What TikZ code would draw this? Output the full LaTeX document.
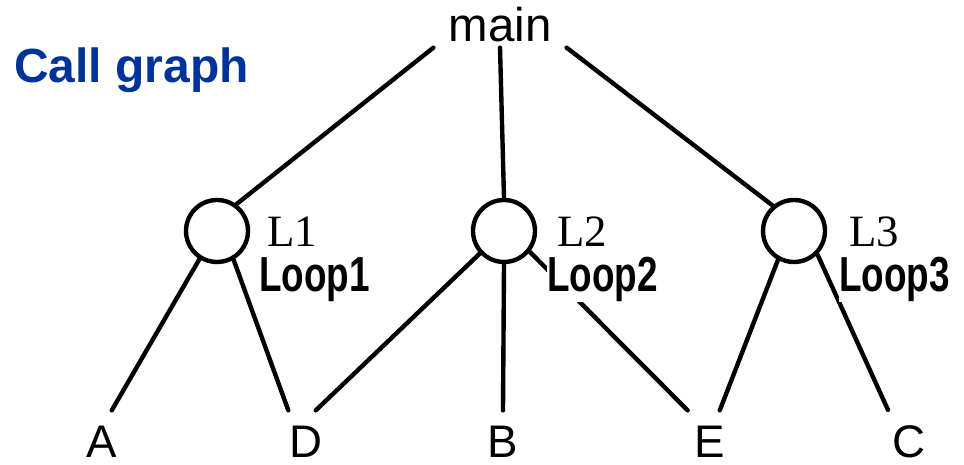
\documentclass[tikz,border=0pt]{standalone}
\usepackage{fontspec}
\setmainfont{Liberation Sans}
\newfontfamily\serifL{Liberation Serif}
\newfontfamily\narrowB[FakeStretch=0.75]{Liberation Sans}
\definecolor{titleblue}{RGB}{0,51,153}

\begin{document}
\begin{tikzpicture}[x=0.02cm,y=0.02cm,line width=2.5pt,line cap=round,
    loopcircle/.style={circle,draw,minimum size=1.24cm,inner sep=0pt},
    leaf/.style={anchor=base,inner sep=0.28cm,font=\fontsize{26pt}{30pt}\selectfont},
    looptag/.style={anchor=base west,inner sep=0pt,font=\serifL\fontsize{25.5pt}{30pt}\selectfont},
    loopname/.style={anchor=base west,inner sep=0pt,fill=white,font=\narrowB\bfseries\fontsize{28pt}{30pt}\selectfont}]
      \useasboundingbox (0,0) rectangle (964,465);
      \draw
        (12,382) node[anchor=base west,inner sep=0pt,text=titleblue,
          font=\bfseries\fontsize{27.3pt}{30pt}\selectfont] (title){Call graph}
        (500,423) node[anchor=base,inner xsep=0.26cm,inner ysep=0.06cm,
          font=\fontsize{27pt}{30pt}\selectfont] (main){main}
        (217,234) node[loopcircle] (L1){}
        (504,234) node[loopcircle] (L2){}
        (794,234) node[loopcircle] (L3){}
        (102,7) node[leaf] (A){A}
        (306,7) node[leaf] (D){D}
        (503,7) node[leaf] (B){B}
        (710,7) node[leaf] (E){E}
        (909,7) node[leaf] (C){C};
      \begin{scope}[-]
        \draw (main.south west) to (L1.54);
        \draw (main.south) to (L2.north);
        \draw (main.south east) to (L3.130);
        \draw (L1.238) to (A.73);
        \draw (L1.300) to (D.119);
        \draw (L2.223) to (D.73);
        \draw (L2.south) to (B.north);
        \draw (L2.321) to (E.125);
        \draw (L3.241) to (E.73);
        \draw (L3.315) to (C.123);
      \end{scope}
      \draw
        (265,218) node[looptag] (t1){L1}
        (555,218) node[looptag] (t2){L2}
        (847,218) node[looptag] (t3){L3}
        (257,173) node[loopname] (n1){Loop1}
        (545,173) node[loopname] (n2){Loop2}
        (837,173) node[loopname] (n3){Loop3};
    \end{tikzpicture}
\end{document}
